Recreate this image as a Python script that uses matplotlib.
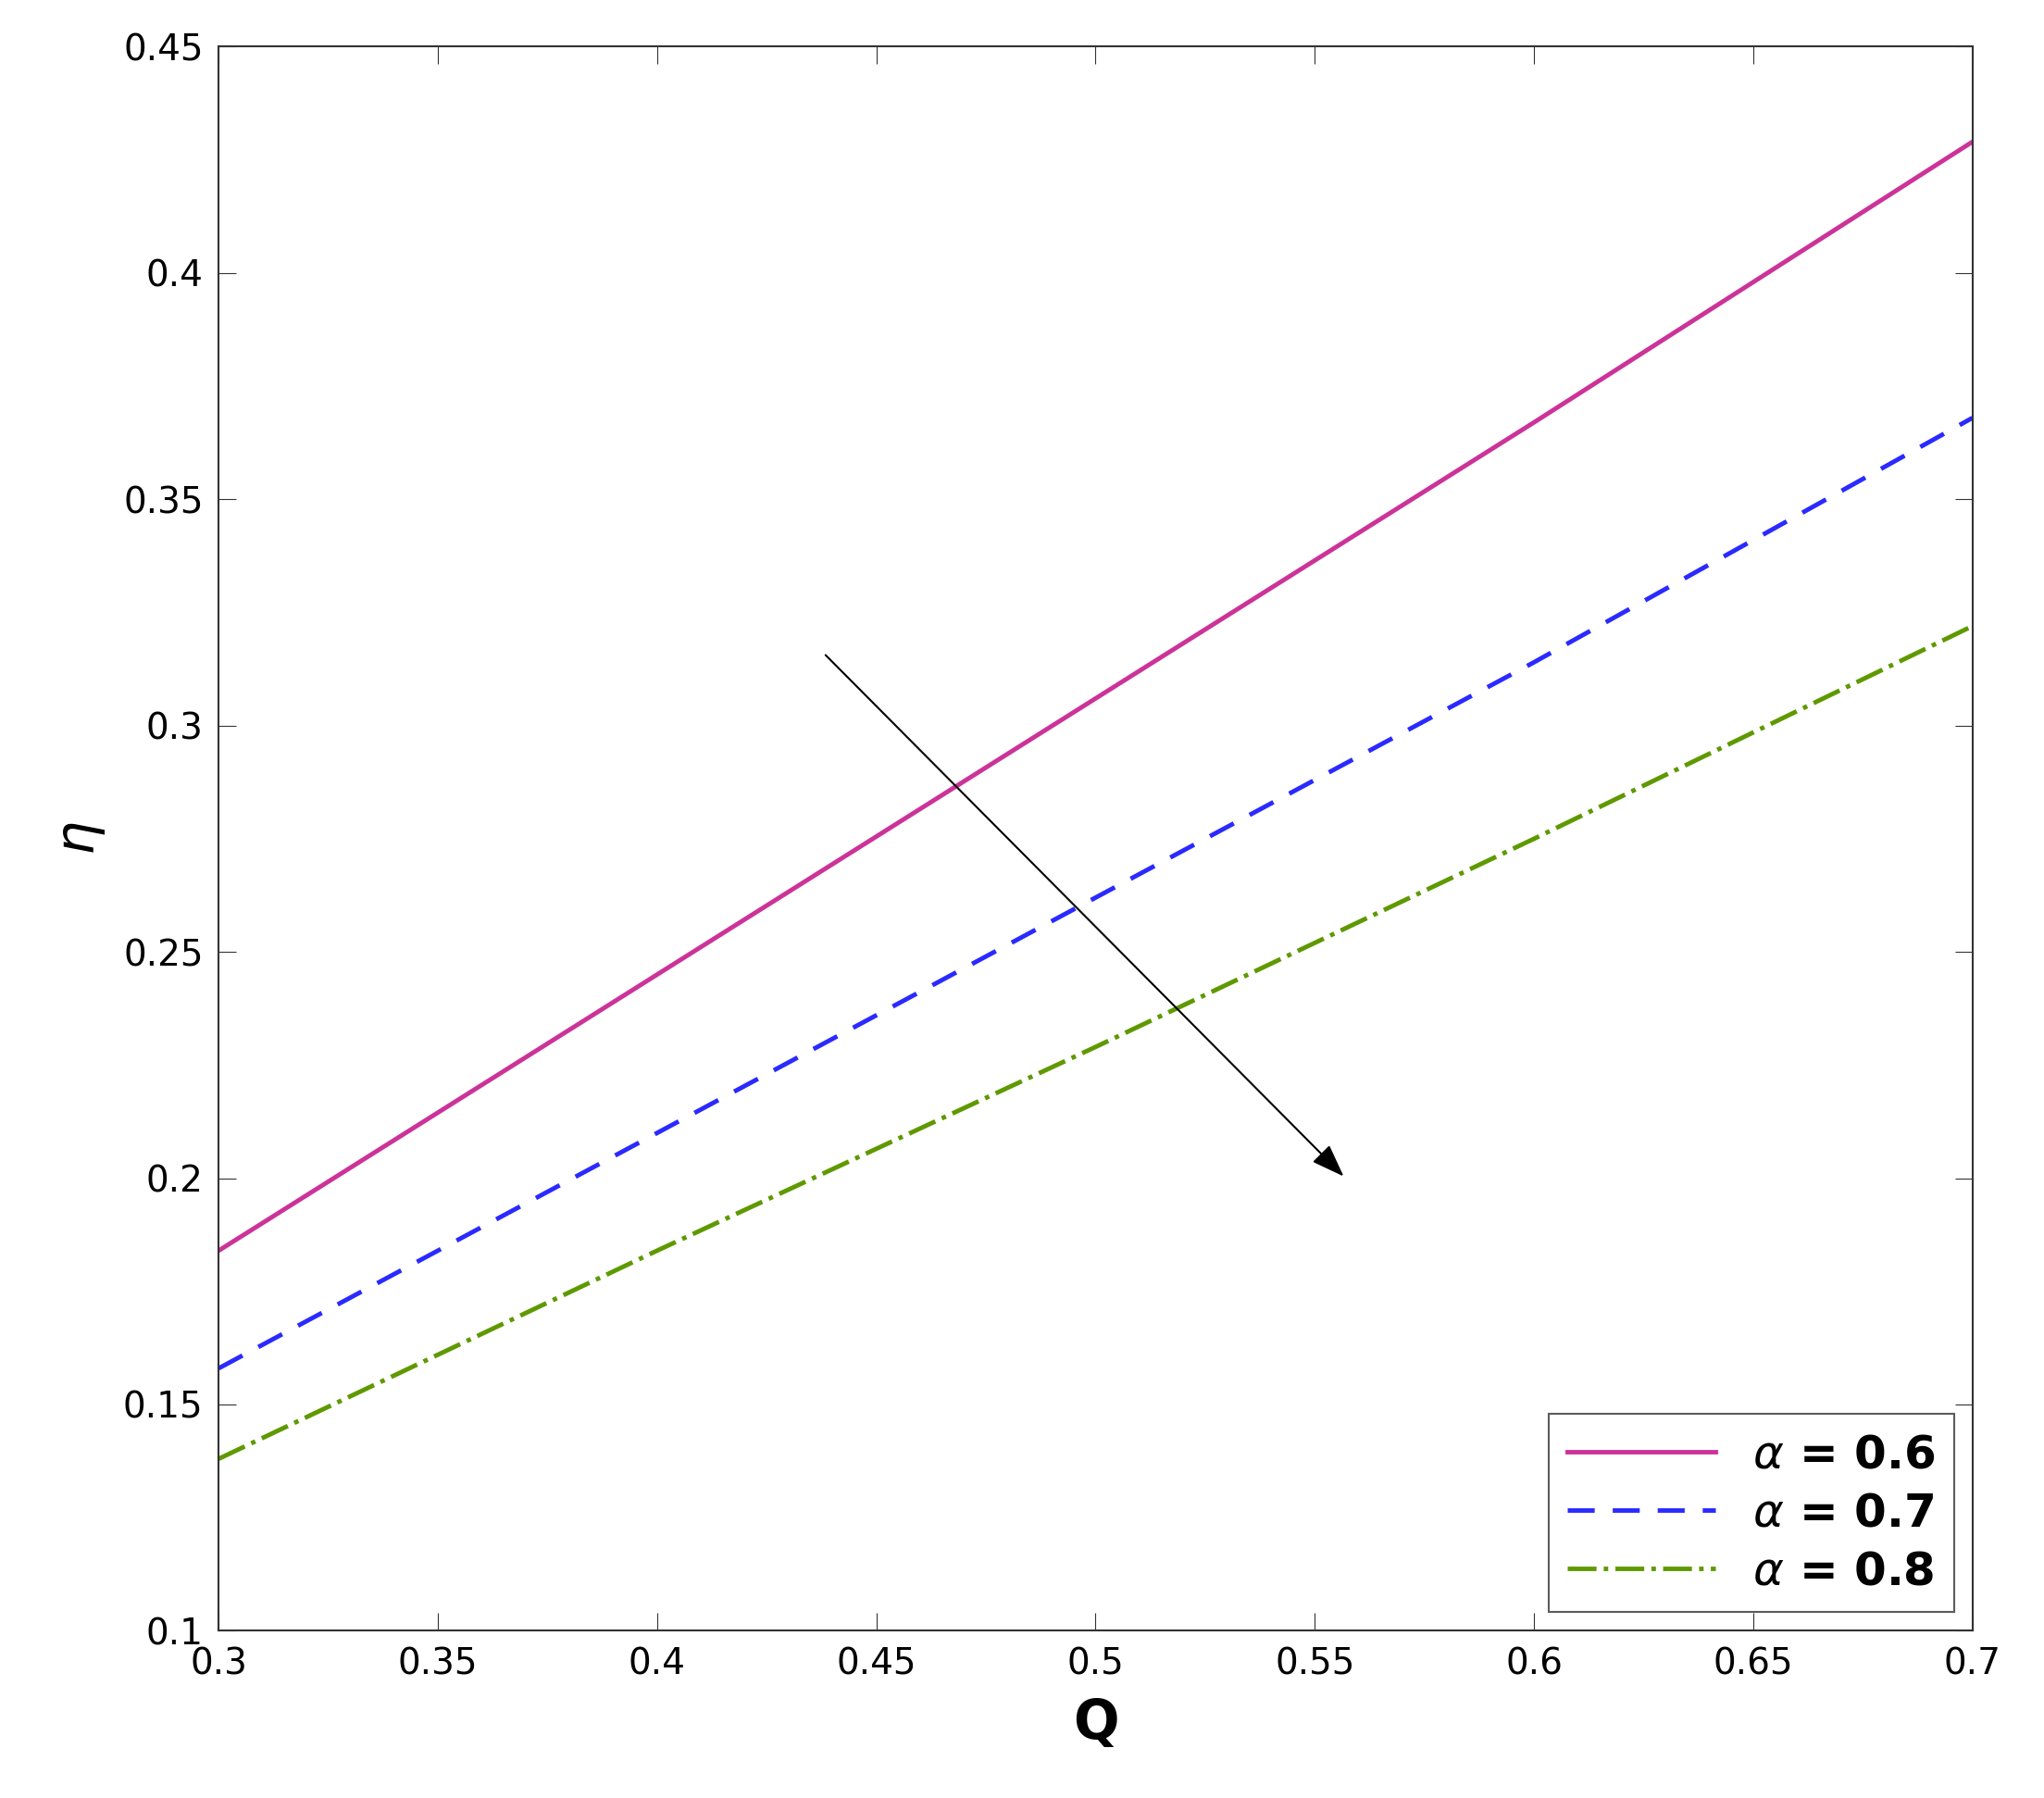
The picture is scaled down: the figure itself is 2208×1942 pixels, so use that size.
import matplotlib
matplotlib.use("Agg")
import matplotlib.pyplot as plt

Q = [0.3, 0.4, 0.5, 0.6, 0.7]
eta_06 = [0.184, 0.245, 0.306, 0.367, 0.429]
eta_07 = [0.158, 0.210, 0.262, 0.314, 0.368]
eta_08 = [0.138, 0.184, 0.229, 0.275, 0.322]
labels = [r"$\alpha$ = 0.6", r"$\alpha$ = 0.7", r"$\alpha$ = 0.8"]

fig = plt.figure(figsize=(22.08, 19.42), dpi=100)
ax = fig.add_axes([0.107, 0.093, 0.858, 0.881])
ax.plot(Q, eta_06, color="#cc3399", lw=3.5, ls="-", label=labels[0])
ax.plot(Q, eta_07, color="#2a2aff", lw=3.5, ls=(0, (6, 4)), label=labels[1])
ax.plot(Q, eta_08, color="#5f9900", lw=3.5, ls="-.", label=labels[2])
ax.annotate("", xy=(0.557, 0.200), xytext=(0.438, 0.316),
            arrowprops=dict(arrowstyle="-|>,head_length=2.2,head_width=0.8", color="black", lw=1.5))
ax.set_xlim(0.3, 0.7)
ax.set_ylim(0.1, 0.45)
ax.set_xticks([0.3, 0.35, 0.4, 0.45, 0.5, 0.55, 0.6, 0.65, 0.7])
ax.set_xticklabels(["0.3", "0.35", "0.4", "0.45", "0.5", "0.55", "0.6", "0.65", "0.7"])
ax.set_yticks([0.1, 0.15, 0.2, 0.25, 0.3, 0.35, 0.4, 0.45])
ax.set_yticklabels(["0.1", "0.15", "0.2", "0.25", "0.3", "0.35", "0.4", "0.45"])
ax.tick_params(labelsize=28, direction="in", length=14, top=True, right=True, color="#333333", pad=12)
for s in ax.spines.values():
    s.set_color("#333333"); s.set_linewidth(1.5)
ax.set_xlabel("Q", fontsize=42, fontweight="bold", labelpad=12)
ax.set_ylabel(r"$\eta$", fontsize=42, labelpad=12)
leg = ax.legend(loc="lower right", prop={"weight": "bold", "size": 36},
                fancybox=False, edgecolor="#333333", handlelength=3.2,
                borderaxespad=0.4, labelspacing=0.3)
leg.get_frame().set_linewidth(1.5)
fig.savefig("out.png", dpi=100, facecolor="white")
